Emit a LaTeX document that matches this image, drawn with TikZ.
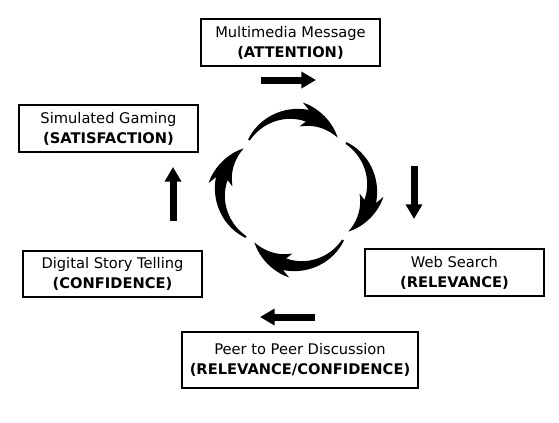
\documentclass[tikz,border=0pt]{standalone}
\usepackage{fontspec}
\setmainfont{DejaVu Sans}
\usetikzlibrary{arrows.meta}
\tikzset{
  stage/.style     = {shape=rectangle, draw, line width=1.5pt, align=center,
                      minimum width=134pt, minimum height=35pt,
                      font=\fontsize{11}{15}\selectfont},
  widestage/.style = {stage, minimum width=177pt, minimum height=42pt},
  thickarrow/.style = {line width=5.25pt, -{Triangle[length=11pt, width=12pt]}}
}

\begin{document}
\begin{tikzpicture}[x=0.75pt, y=0.75pt]
  \useasboundingbox (0,0) rectangle (559,-422);

  \node [stage] (attention) at (290.5,-42.5) {Multimedia Message\\\textbf{(ATTENTION)}};
  \node [stage] (relevance) at (454.5,-272.5) {Web Search\\\textbf{(RELEVANCE)}};
  \node [widestage] (peer) at (300,-360) {Peer to Peer Discussion\\\textbf{(RELEVANCE/CONFIDENCE)}};
  \node [stage] (confidence) at (112.5,-274) {Digital Story Telling\\\textbf{(CONFIDENCE)}};
  \node [stage] (satisfaction) at (108.5,-128.5) {Simulated Gaming\\\textbf{(SATISFACTION)}};

  \coordinate (r1) at (261,-80);  \coordinate (r2) at (316,-80);
  \coordinate (d1) at (414,-166); \coordinate (d2) at (414,-219);
  \coordinate (l1) at (315,-317); \coordinate (l2) at (260,-317);
  \coordinate (u1) at (173,-221); \coordinate (u2) at (173,-167);
  \draw [thickarrow] (r1) -- (r2);
  \draw [thickarrow] (d1) -- (d2);
  \draw [thickarrow] (l1) -- (l2);
  \draw [thickarrow] (u1) -- (u2);

  \coordinate (cycle) at (296,-190);
  \foreach \a in {0,-90,-180,-270}
    \fill [shift={(cycle)}, rotate=\a, shift={(-2,24)}]
      (150:52)
      -- plot [domain=150:75, samples=25] ({(53+5*(150-\x)/75)*cos(\x)}, {(53+5*(150-\x)/75)*sin(\x)})
      -- (82:64)
      -- plot [domain=77:33, samples=20] ({(52+11*(\x-33)/44)*cos(\x)}, {(52+11*(\x-33)/44)*sin(\x)})
      -- plot [domain=33:77, samples=20] ({(52-11*(\x-33)/44)*cos(\x)}, {(52-11*(\x-33)/44)*sin(\x)})
      -- (82:40)
      -- plot [domain=75:150, samples=25] ({(51-5*(150-\x)/75)*cos(\x)}, {(51-5*(150-\x)/75)*sin(\x)})
      -- cycle;
\end{tikzpicture}
\end{document}
